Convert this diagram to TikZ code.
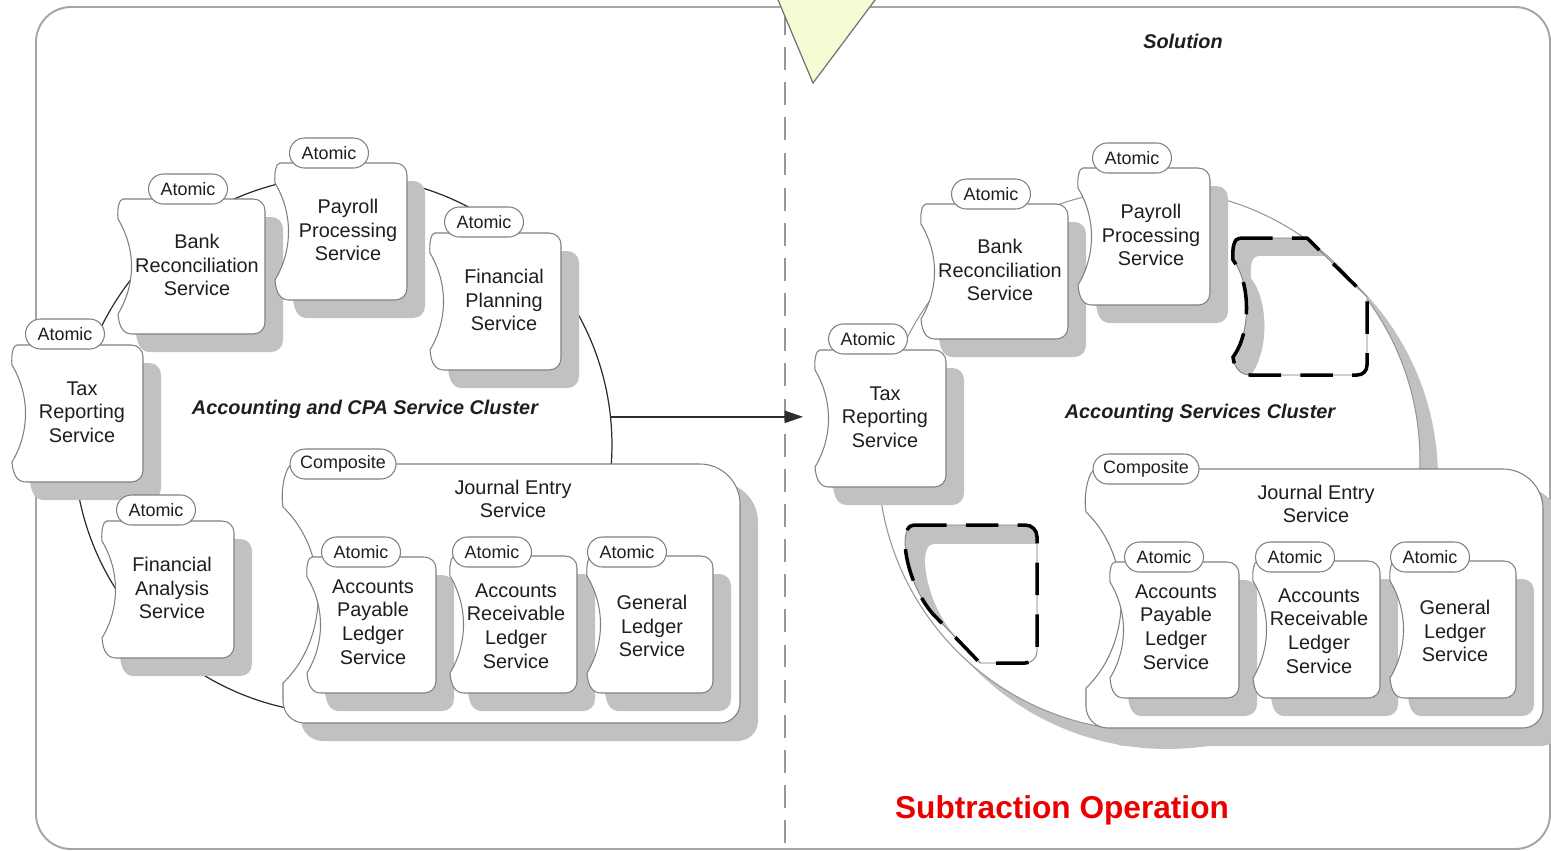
\documentclass[tikz,border=0pt]{standalone}
\usepackage{fontspec}
\setmainfont{Liberation Sans}
\usetikzlibrary{arrows.meta}

\definecolor{edgegray}{RGB}{128,128,128}
\definecolor{shadegray}{RGB}{193,193,193}
\definecolor{inkgray}{RGB}{30,30,30}
\definecolor{framegray}{RGB}{165,165,165}
\definecolor{ringdark}{RGB}{45,45,45}
\definecolor{ringlight}{RGB}{150,150,150}
\definecolor{trifill}{RGB}{244,252,212}
\definecolor{trigray}{RGB}{115,115,115}
\definecolor{opred}{RGB}{235,0,0}
\definecolor{divgray}{RGB}{150,150,150}

% outline of a service box, origin at its top-left corner (width, height)
\newcommand{\svcpath}[2]{(5,0) -- (#1-12,0) .. controls (#1-5,0) and (#1,5) .. (#1,12)
  -- (#1,#2-12) .. controls (#1,#2-5) and (#1-5,#2) .. (#1-12,#2)
  -- (14,#2) .. controls (6,#2) and (1,#2-6) .. (0,#2-20)
  .. controls (18,#2-50) and (18,50) .. (0,20)
  .. controls (-1,10) and (1,0) .. (5,0) -- cycle}

% outline of the composite box (width, height)
\newcommand{\comppath}[2]{(10,0) -- (#1-40,0) .. controls (#1-18,0) and (#1,18) .. (#1,40)
  -- (#1,#2-20) .. controls (#1,#2-9) and (#1-9,#2) .. (#1-20,#2)
  -- (22,#2) .. controls (9,#2) and (0,#2-10) .. (0,#2-22) -- (0,#2-40)
  .. controls (47,#2-85) and (47,88) .. (0,43)
  .. controls (-3,25) and (3,0) .. (10,0) -- cycle}

% service box with its drop shadow: x, y, width, height
\newcommand{\svcshape}[4]{%
  \fill[shadegray,shift={(#1+18,#2+18)}] \svcpath{#3}{#4};
  \filldraw[svcedge,shift={(#1,#2)}] \svcpath{#3}{#4};}

\newcommand{\compshape}[4]{%
  \fill[shadegray,shift={(#1+18,#2+18)}] \comppath{#3}{#4};
  \filldraw[svcedge,shift={(#1,#2)}] \comppath{#3}{#4};}

% removed services (local outlines)
\def\ghostone{(7,0) -- (74,0) -- (134,59) -- (134,127) .. controls (134,133) and (130,137) .. (124,137)
  -- (17,137) .. controls (8,137) and (1,130) .. (0,119) .. controls (18,95) and (18,45) .. (0,22)
  .. controls (-1,10) and (1,0) .. (7,0) -- cycle}
\def\ghosttwo{(9,0) -- (120,0) .. controls (127,0) and (132,5) .. (132,12) -- (132,126)
  .. controls (132,133) and (127,138) .. (120,138) -- (75,138) -- (27,88)
  .. controls (12,70) and (1,42) .. (0,18) .. controls (0,7) and (3,0) .. (9,0) -- cycle}

\begin{document}
\begin{tikzpicture}[x=0.02cm,y=-0.02cm,
  svcedge/.style={fill=white,draw=edgegray,line width=0.6pt},
  tag/.style={draw=edgegray,fill=white,line width=0.6pt,rounded corners=0.3cm,
    minimum width=1.58cm,minimum height=0.6cm,inner sep=0pt,
    font=\fontsize{10.2}{12}\selectfont,text=inkgray},
  comptag/.style={tag,minimum width=2.12cm},
  svctext/.style={align=center,inner sep=0pt,text=inkgray,
    font=\fontsize{11.3}{13.4}\selectfont},
  clustertitle/.style={inner sep=0pt,text=inkgray,
    font=\bfseries\itshape\fontsize{11.3}{13}\selectfont},
  ghostdash/.style={black,line width=2pt,dash pattern=on 18.5pt off 11pt},
  ghostthin/.style={edgegray,line width=0.5pt},
  arrowink/.style={draw=ringdark,line width=0.85pt,-{Triangle[length=10.5pt,width=7pt]}}
]
\useasboundingbox (0,0) rectangle (1551,850);

% outer frame
\draw[framegray,line width=1.1pt,rounded corners=0.7cm] (36,7) rectangle (1550,849);

% divider between the two states
\draw[divgray,line width=0.9pt,dash pattern=on 13pt off 7pt] (785,12) -- (785,850);

% marker at the top
\begin{scope}
  \clip (0,0) rectangle (1551,850);
  \filldraw[fill=trifill,draw=trigray,line width=0.7pt] (773,-12) -- (884,-12) -- (813,83) -- cycle;
\end{scope}

% ---------------- left cluster ----------------
\node[circle,draw=ringdark,line width=0.7pt,minimum size=10.76cm,inner sep=0pt] (lclu) at (343,445) {};
\coordinate (tipx) at (803,416);
\draw[arrowink] (lclu.6.2) -- (lclu.6.2 -| tipx);

\svcshape{102}{521}{132}{137}
\svcshape{12}{345}{131}{137}
\svcshape{118}{199}{147}{135}
\svcshape{275}{163}{132}{137}
\svcshape{430}{233}{131}{137}
\compshape{283}{464}{457}{259}
\svcshape{307}{557}{129}{136}
\svcshape{450}{556}{127}{137}
\svcshape{587}{556}{126}{137}

\node[tag] (lTaxTag) at (65,334) {Atomic};
\node[tag] (lBankTag) at (188,189) {Atomic};
\node[tag] (lPayTag) at (329,153) {Atomic};
\node[tag] (lPlanTag) at (484,222) {Atomic};
\node[tag] (lAnaTag) at (156,510) {Atomic};
\node[comptag] (lJrnTag) at (343,464) {Composite};
\node[tag] (lApTag) at (361,552) {Atomic};
\node[tag] (lArTag) at (492,552) {Atomic};
\node[tag] (lGlTag) at (627,552) {Atomic};

\node[svctext] (lTax) at (82,412) {Tax\\Reporting\\Service};
\node[svctext] (lBank) at (197,265) {Bank\\Reconciliation\\Service};
\node[svctext] (lPay) at (348,230) {Payroll\\Processing\\Service};
\node[svctext] (lPlan) at (504,300) {Financial\\Planning\\Service};
\node[svctext] (lAna) at (172,588) {Financial\\Analysis\\Service};
\node[svctext] (lJrn) at (513,499) {Journal Entry\\Service};
\node[svctext] (lAp) at (373,622) {Accounts\\Payable\\Ledger\\Service};
\node[svctext] (lAr) at (516,626) {Accounts\\Receivable\\Ledger\\Service};
\node[svctext] (lGl) at (652,626) {General\\Ledger\\Service};

\node[clustertitle] (lTitle) at (365,409) {Accounting and CPA Service Cluster};

% ---------------- right cluster ----------------
\node[circle,fill=shadegray,minimum size=10.84cm,inner sep=0pt] (rcluShade) at (1167,478) {};
\node[circle,draw=ringlight,fill=white,line width=0.6pt,minimum size=10.84cm,inner sep=0pt] (rclu) at (1149,460) {};

\svcshape{815}{350}{131}{137}
\svcshape{921}{204}{147}{135}
\svcshape{1078}{168}{132}{137}
\compshape{1086}{469}{457}{259}
\svcshape{1110}{562}{129}{136}
\svcshape{1253}{561}{127}{137}
\svcshape{1390}{561}{126}{137}

% removed services
\begin{scope}[shift={(1233,238)}]
  \fill[shadegray] \ghostone;
  \begin{scope}
    \clip \ghostone;
    \fill[white,shift={(18,18)}] \ghostone;
  \end{scope}
  \draw[ghostthin] \ghostone;
  \draw[ghostdash] \ghostone;
\end{scope}
\begin{scope}[shift={(905,525)}]
  \fill[shadegray] \ghosttwo;
  \begin{scope}
    \clip \ghosttwo;
    \fill[white,shift={(20,19)}] \ghosttwo;
  \end{scope}
  \draw[ghostthin] \ghosttwo;
  \draw[ghostdash] \ghosttwo;
\end{scope}

\node[tag] (rTaxTag) at (868,339) {Atomic};
\node[tag] (rBankTag) at (991,194) {Atomic};
\node[tag] (rPayTag) at (1132,158) {Atomic};
\node[comptag] (rJrnTag) at (1146,469) {Composite};
\node[tag] (rApTag) at (1164,557) {Atomic};
\node[tag] (rArTag) at (1295,557) {Atomic};
\node[tag] (rGlTag) at (1430,557) {Atomic};

\node[svctext] (rTax) at (885,417) {Tax\\Reporting\\Service};
\node[svctext] (rBank) at (1000,270) {Bank\\Reconciliation\\Service};
\node[svctext] (rPay) at (1151,235) {Payroll\\Processing\\Service};
\node[svctext] (rJrn) at (1316,504) {Journal Entry\\Service};
\node[svctext] (rAp) at (1176,627) {Accounts\\Payable\\Ledger\\Service};
\node[svctext] (rAr) at (1319,631) {Accounts\\Receivable\\Ledger\\Service};
\node[svctext] (rGl) at (1455,631) {General\\Ledger\\Service};

\node[clustertitle] (rTitle) at (1200,413) {Accounting Services Cluster};
\node[clustertitle] (solTitle) at (1183,41) {Solution};

\node[inner sep=0pt,text=opred,font=\bfseries\fontsize{18}{21}\selectfont] (opName) at (1062,810) {Subtraction Operation};
\end{tikzpicture}
\end{document}
